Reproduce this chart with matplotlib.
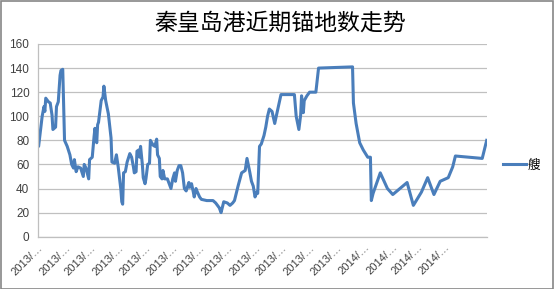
import matplotlib
matplotlib.use("Agg")
import matplotlib.pyplot as plt
import pandas as pd
from matplotlib.patches import Rectangle

plt.rcParams['font.family'] = ['Liberation Sans', 'Noto Sans CJK SC', 'DejaVu Sans']

title = '秦皇岛港近期锚地数走势'
series_name = '艘'

dates = [
    '2013-01-01', '2013-01-02', '2013-01-06', '2013-01-08', '2013-01-09', '2013-01-10',
    '2013-01-13', '2013-01-15', '2013-01-17', '2013-01-18', '2013-01-21', '2013-01-22',
    '2013-01-24', '2013-01-26', '2013-01-27', '2013-01-29', '2013-01-31', '2013-02-03',
    '2013-02-06', '2013-02-08', '2013-02-10', '2013-02-11', '2013-02-13', '2013-02-15',
    '2013-02-18', '2013-02-21', '2013-02-22', '2013-02-24', '2013-02-27', '2013-02-28',
    '2013-03-03', '2013-03-05', '2013-03-06', '2013-03-08', '2013-03-09', '2013-03-10',
    '2013-03-13', '2013-03-15', '2013-03-16', '2013-03-18', '2013-03-21', '2013-03-24',
    '2013-03-25', '2013-03-28', '2013-03-30', '2013-04-01', '2013-04-04', '2013-04-05',
    '2013-04-06', '2013-04-07', '2013-04-09', '2013-04-11', '2013-04-14', '2013-04-16',
    '2013-04-18', '2013-04-19', '2013-04-21', '2013-04-22', '2013-04-24', '2013-04-25',
    '2013-04-26', '2013-04-28', '2013-04-29', '2013-05-01', '2013-05-02', '2013-05-04',
    '2013-05-06', '2013-05-07', '2013-05-10', '2013-05-12', '2013-05-14', '2013-05-15',
    '2013-05-17', '2013-05-18', '2013-05-20', '2013-05-21', '2013-05-23', '2013-05-26',
    '2013-05-29', '2013-05-30', '2013-06-01', '2013-06-03', '2013-06-04', '2013-06-06',
    '2013-06-08', '2013-06-10', '2013-06-12', '2013-06-14', '2013-06-16', '2013-06-19',
    '2013-06-20', '2013-06-22', '2013-06-24', '2013-06-25', '2013-06-27', '2013-06-28',
    '2013-07-01', '2013-07-03', '2013-07-09', '2013-07-16', '2013-07-19', '2013-07-23',
    '2013-07-25', '2013-07-28', '2013-08-01', '2013-08-04', '2013-08-07', '2013-08-09',
    '2013-08-13', '2013-08-17', '2013-08-19', '2013-08-21', '2013-08-23', '2013-08-26',
    '2013-08-28', '2013-08-30', '2013-09-01', '2013-09-03', '2013-09-04', '2013-09-06',
    '2013-09-08', '2013-09-11', '2013-09-13', '2013-09-15', '2013-09-17', '2013-09-20',
    '2013-09-23', '2013-09-25', '2013-09-28', '2013-09-30', '2013-10-08', '2013-10-15',
    '2013-10-17', '2013-10-20', '2013-10-22', '2013-10-23', '2013-10-25', '2013-10-26',
    '2013-10-29', '2013-11-01', '2013-11-08', '2013-11-11', '2013-12-19', '2013-12-20',
    '2013-12-23', '2013-12-27', '2013-12-29', '2013-12-31', '2014-01-05', '2014-01-08',
    '2014-01-09', '2014-01-11', '2014-01-19', '2014-01-27', '2014-02-02', '2014-02-10',
    '2014-02-18', '2014-02-25', '2014-03-06', '2014-03-13', '2014-03-20', '2014-03-27',
    '2014-03-30', '2014-04-05', '2014-04-10', '2014-04-13', '2014-05-13', '2014-05-18',
]
ships = [
    79, 75, 100, 108, 104, 115,
    112, 111, 101, 89, 91, 108,
    112, 134, 138, 139, 80, 75,
    68, 60, 57, 64, 54, 58,
    57, 50, 60, 57, 48, 64,
    66, 83, 90, 78, 93, 95,
    113, 116, 125, 113, 102, 82,
    62, 61, 68, 58, 39, 29,
    27, 53, 54, 62, 69, 66,
    58, 53, 54, 71, 72, 66,
    75, 60, 49, 44, 48, 60,
    61, 80, 76, 75, 81, 68,
    65, 50, 48, 55, 48, 48,
    42, 40, 48, 53, 46, 55,
    59, 59, 53, 40, 38, 45,
    41, 44, 37, 33, 40, 38,
    33, 31, 30, 30, 28, 24,
    20, 29, 28, 26, 28, 30,
    42, 53, 54, 55, 65, 54,
    46, 42, 33, 37, 36, 75,
    77, 84, 91, 100, 106, 104,
    94, 101, 111, 118, 118, 118,
    100, 89, 101, 117, 103, 113,
    117, 120, 120, 140, 141, 111,
    94, 78, 75, 72, 66, 66,
    30, 36, 53, 40, 35, 40,
    45, 26, 37, 49, 35, 46,
    47, 49, 58, 67, 65, 80,
]

x = pd.to_datetime(dates)

fig = plt.figure(figsize=(5.54, 2.89), dpi=100)
ax = fig.add_axes([37.7 / 554, 1 - 236.7 / 289, 449 / 554, 192.7 / 289])

line, = ax.plot(x, ships, color='#4a7ebb', linewidth=2.2, label=series_name)

ax.set_ylim(0, 160)
ax.set_yticks(range(0, 161, 20))
ax.set_xlim(x[0], x[-1])

ticks = pd.date_range('2013-01-01', '2014-04-01', freq='MS')
ax.set_xticks(ticks)
ax.set_xticklabels([f'{t.year}/…' for t in ticks], rotation=45, ha='right',
                   rotation_mode='anchor', fontsize=8, color='#404040')
ax.tick_params(axis='y', labelsize=8.5, labelcolor='#404040', length=0, pad=6)
ax.tick_params(axis='x', length=0, pad=4)

ax.grid(axis='y', color='#c0c0c0', linewidth=0.9)
ax.set_axisbelow(True)
for side in ['top', 'right']:
    ax.spines[side].set_visible(False)
for side in ['left', 'bottom']:
    ax.spines[side].set_color('#bfbfbf')
    ax.spines[side].set_linewidth(0.9)

fig.text(0.505, 0.92, title, ha='center', va='center', fontsize=16.5,
         family=['Noto Sans CJK SC', 'DejaVu Sans'], color='#000000')

fig.legend(handles=[line], loc='center left', bbox_to_anchor=(492 / 554, 1 - 165 / 289),
           frameon=False, handlelength=1.8, handletextpad=0.15,
           prop={'family': ['Noto Sans CJK SC', 'DejaVu Sans'], 'size': 9})

fig.patches.append(Rectangle((0.5 / 554, 0.5 / 289), 1 - 1.5 / 554, 1 - 1.5 / 289,
                             transform=fig.transFigure, fill=False,
                             edgecolor='#868686', linewidth=1.2))

plt.savefig('out.png', dpi=100)
